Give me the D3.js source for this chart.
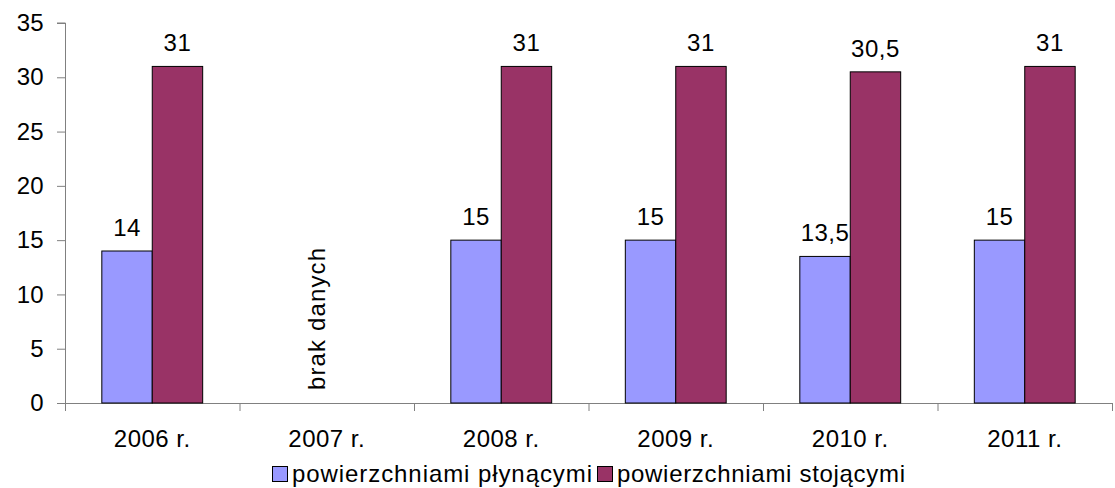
<!DOCTYPE html>
<html>
<head>
<meta charset="utf-8">
<script src="https://cdn.jsdelivr.net/npm/d3@7/dist/d3.min.js"></script>
<style>
  body { margin: 0; background: #fff; }
  svg text { font-family: "Liberation Sans", Arial, sans-serif; font-size: 24px; fill: #000; }
</style>
</head>
<body>
<div id="chart"></div>
<script>
// dane
const years = ['2006 r.', '2007 r.', '2008 r.', '2009 r.', '2010 r.', '2011 r.'];
const plynace = [14, null, 15, 15, 13.5, 15];
const stojace = [31, null, 31, 31, 30.5, 31];
const seriesNames = ['powierzchniami płynącymi', 'powierzchniami stojącymi'];
const seriesColors = ['#9999ff', '#993366'];
const yTicks = [0, 5, 10, 15, 20, 25, 30, 35];
const noDataLabel = 'brak danych';

const width = 1115, height = 488;
const svg = d3.select('#chart').append('svg')
    .attr('width', width)
    .attr('height', height);

const x = d3.scaleBand().domain(years).range([65, 1112]);
const xInner = d3.scaleBand().domain(seriesNames).range([0, x.bandwidth()]).paddingOuter(0.73);
const y = d3.scaleLinear().domain([0, 35]).range([403, 23]);

const fmt = v => String(v).replace('.', ',');
const FONT = '"Liberation Sans", Arial, sans-serif';

// oś Y
const yAxis = svg.append('g')
    .attr('transform', 'translate(65,0)')
    .call(d3.axisLeft(y).tickValues(yTicks).tickSize(8).tickPadding(13));
yAxis.select('.domain').attr('stroke', '#808080').attr('d', 'M-8,' + y(35) + 'H0.5V' + y(0));
yAxis.selectAll('.tick line').attr('stroke', '#808080');
yAxis.selectAll('.tick text').style('font-size', '24px').style('font-family', FONT).attr('letter-spacing', '0.3px');

// oś X
const xAxis = svg.append('g')
    .attr('transform', 'translate(0,403)')
    .call(d3.axisBottom(x).tickSize(0).tickPadding(27));
xAxis.select('.domain').attr('stroke', '#808080');
xAxis.selectAll('.tick text').style('font-size', '24px').style('font-family', FONT).attr('letter-spacing', '0.5px');
xAxis.selectAll('.boundary')
    .data(years.map(d => x(d)).concat([x.range()[1]]))
    .join('line')
    .attr('class', 'boundary')
    .attr('x1', d => d + 0.5).attr('x2', d => d + 0.5)
    .attr('y1', 0).attr('y2', 8)
    .attr('stroke', '#808080');

// słupki
const rows = years.map((year, i) => ({ year, values: [plynace[i], stojace[i]] }));
const groups = svg.selectAll('.grp').data(rows).join('g')
    .attr('class', 'grp')
    .attr('transform', d => 'translate(' + x(d.year) + ',0)');

groups.selectAll('rect')
    .data(d => d.values.map((v, j) => ({ v, s: seriesNames[j], c: seriesColors[j] })).filter(e => e.v != null))
    .join('rect')
    .attr('x', e => xInner(e.s))
    .attr('y', e => y(e.v))
    .attr('width', xInner.bandwidth())
    .attr('height', e => y(0) - y(e.v))
    .attr('fill', e => e.c)
    .attr('stroke', '#000')
    .attr('stroke-width', 1);

groups.selectAll('.val')
    .data(d => d.values.map((v, j) => ({ v, s: seriesNames[j] })).filter(e => e.v != null))
    .join('text')
    .attr('class', 'val')
    .attr('x', e => xInner(e.s) + xInner.bandwidth() / 2)
    .attr('y', e => y(e.v) - 15)
    .attr('text-anchor', 'middle')
    .attr('letter-spacing', '0.5px')
    .text(e => fmt(e.v));

// brak danych
rows.filter(d => d.values[0] == null).forEach(d => {
    const cx = x(d.year) + x.bandwidth() / 2;
    svg.append('text')
        .attr('transform', 'translate(' + (cx - 2) + ',390) rotate(-90)')
        .attr('textLength', 142)
        .attr('lengthAdjust', 'spacing')
        .text(noDataLabel);
});

// legenda
const legendX = [272, 597];
const legendW = [300, 288];
const legend = svg.selectAll('.leg').data(seriesNames).join('g')
    .attr('class', 'leg')
    .attr('transform', (d, i) => 'translate(' + legendX[i] + ',466)');
legend.append('rect')
    .attr('x', 0.5).attr('y', 0.5)
    .attr('width', 15).attr('height', 15)
    .attr('fill', (d, i) => seriesColors[i])
    .attr('stroke', '#000');
legend.append('text')
    .attr('x', 20).attr('y', 16)
    .attr('textLength', (d, i) => legendW[i])
    .attr('lengthAdjust', 'spacing')
    .text(d => d);
</script>
</body>
</html>
